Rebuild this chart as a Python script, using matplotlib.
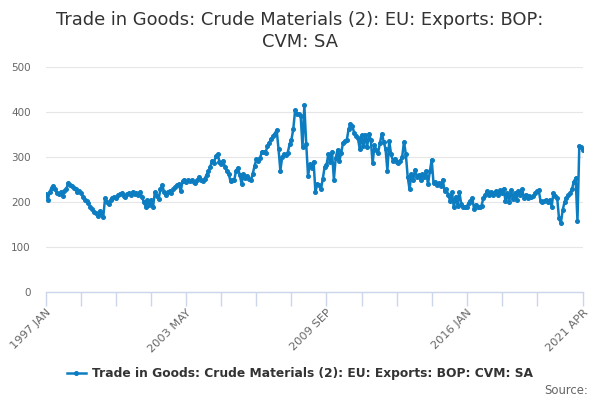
import matplotlib
matplotlib.use("Agg")
import matplotlib.pyplot as plt
import numpy as np

title = "Trade in Goods: Crude Materials (2): EU: Exports: BOP:\nCVM: SA"
series_name = "Trade in Goods: Crude Materials (2): EU: Exports: BOP: CVM: SA"
tick_labels = ["1997 JAN", "2003 MAY", "2009 SEP", "2016 JAN", "2021 APR"]
tick_index = [0, 76, 152, 228, 291]
y_ticks = [0, 100, 200, 300, 400, 500]

values = [
    218, 205, 222, 232, 236, 228, 220, 218, 222, 214, 224, 228,
    242, 238, 236, 231, 228, 222, 224, 220, 212, 205, 203, 198,
    188, 184, 178, 176, 168, 180, 174, 166, 208, 200, 196, 205,
    210, 212, 208, 215, 218, 220, 214, 211, 218, 220, 215, 223,
    218, 220, 215, 222, 212, 200, 190, 204, 193, 205, 189, 222,
    214, 206, 228, 238, 222, 215, 222, 225, 220, 228, 234, 238,
    240, 224, 246, 250, 244, 248, 246, 248, 244, 242, 248, 256,
    250, 246, 252, 260, 268, 278, 292, 286, 302, 306, 290, 284,
    292, 278, 268, 262, 246, 250, 248, 270, 276, 260, 240, 262,
    254, 258, 252, 248, 262, 280, 295, 292, 298, 312, 312, 310,
    324, 332, 340, 346, 352, 360, 318, 270, 300, 306, 304, 310,
    328, 338, 362, 404, 396, 396, 392, 322, 415, 330, 258, 284,
    276, 290, 222, 240, 238, 228, 252, 278, 282, 306, 290, 312,
    250, 298, 316, 292, 310, 332, 336, 338, 362, 374, 368, 354,
    346, 342, 318, 348, 324, 350, 322, 352, 338, 286, 326, 316,
    310, 332, 352, 334, 318, 270, 336, 306, 292, 296, 290, 287,
    292, 300, 334, 306, 256, 228, 262, 250, 272, 256, 260, 250,
    262, 256, 268, 240, 268, 294, 242, 244, 238, 242, 236, 250,
    224, 228, 216, 202, 222, 188, 212, 192, 222, 196, 188, 190,
    190, 198, 202, 208, 184, 194, 190, 188, 192, 208, 216, 224,
    216, 222, 216, 220, 224, 216, 226, 220, 230, 202, 220, 200,
    226, 206, 220, 205, 224, 216, 228, 210, 216, 210, 213, 212,
    214, 220, 224, 226, 202, 200, 202, 204, 200, 205, 190, 220,
    214, 209, 164, 153, 182, 200, 208, 215, 220, 228, 245, 253,
    158, 324, 322, 316,
]

x = np.arange(len(values))
line_color = "#0d7dc1"
n_last = len(values) - 1

fig = plt.figure(figsize=(6, 4), dpi=100)
ax = fig.add_axes([46/600, 1-292/400, (583-46)/600, (292-67)/400])

ax.plot(x, values, color=line_color, lw=1.8, marker="o", ms=2.6,
        mec=line_color, mfc=line_color, label=series_name, zorder=3)

ax.set_xlim(0, n_last)
ax.set_ylim(0, 500)
ax.set_yticks(y_ticks)
ax.set_yticklabels([str(v) for v in y_ticks], color="#666666", fontsize=7.5)
ax.grid(axis="y", color="#e6e6e6", lw=0.8)
ax.set_axisbelow(True)
ax.tick_params(axis="y", length=0, pad=11)

# tick marks every 19 months plus the last month; labels on every 4th
step = tick_index[1] // 4
all_ticks = [t for t in range(0, n_last, step) if n_last - t > step // 2] + [n_last]
labels = [tick_labels[tick_index.index(t)] if t in tick_index else "" for t in all_ticks]
ax.set_xticks(all_ticks)
ax.set_xticklabels(labels, rotation=45, ha="right", rotation_mode="anchor",
                   color="#666666", fontsize=8.2)
ax.tick_params(axis="x", length=10, color="#ccd6eb", width=1, pad=1)

for s in ["top", "right", "left"]:
    ax.spines[s].set_visible(False)
ax.spines["bottom"].set_color("#ccd6eb")
ax.spines["bottom"].set_linewidth(1)

fig.text(0.5, 0.972, title, ha="center", va="top", fontsize=12.9,
         color="#333333", linespacing=1.25)

leg = fig.legend(loc="center", bbox_to_anchor=(0.5, 1-374/400), frameon=False,
                 prop={"weight": "bold", "size": 8.8}, handlelength=1.6,
                 handletextpad=0.5)
for t in leg.get_texts():
    t.set_color("#333333")

fig.text(588/600, 1-390/400, "Source:", ha="right", va="center",
         fontsize=8.4, color="#666666")

fig.savefig("out.png", dpi=100)
